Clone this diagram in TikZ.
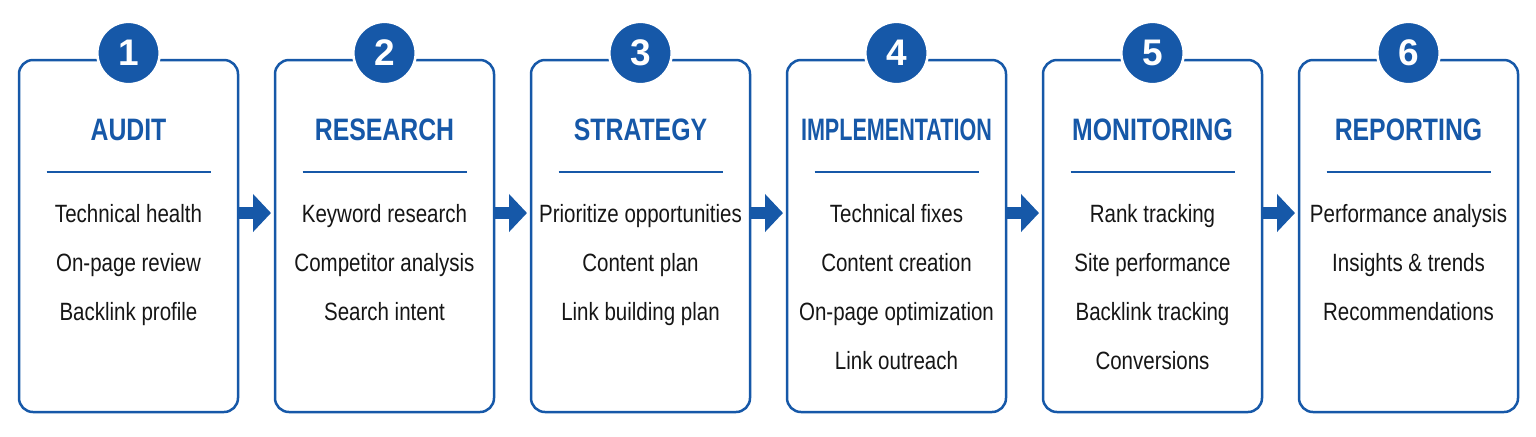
\documentclass[tikz,border=0pt]{standalone}
\usepackage{fontspec}
\usepackage{graphicx}
\setmainfont{Liberation Sans}[FakeStretch=0.82]
\newfontfamily\titlefont{Liberation Sans}[FakeStretch=0.8]
\newfontfamily\numfont{Liberation Sans}
\usetikzlibrary{arrows.meta}
\definecolor{stageblue}{RGB}{22,88,168}
\definecolor{itemink}{RGB}{22,22,22}
\tikzset{
  stagebox/.style={draw=stageblue, line width=1.25pt, rounded corners=7pt, fill=white,
    minimum width=109.5pt, minimum height=176pt, inner sep=0pt, outer sep=0pt},
  numdisc/.style={circle, fill=stageblue, draw=white, line width=1.3pt,
    minimum size=31.2pt, inner sep=0pt, text=white, font=\numfont\bfseries\fontsize{18.5}{18.5}\selectfont},
  stagetitle/.style={anchor=base, text=stageblue, inner sep=0pt, font=\titlefont\bfseries\fontsize{15.5}{15.5}\selectfont},
  stageitem/.style={anchor=base, text=itemink, inner sep=0pt, font=\fontsize{12.5}{12.5}\selectfont},
  sepline/.style={draw=stageblue, line width=1pt},
  flowarrow/.style={draw=stageblue, line width=6pt, -{Triangle[width=18.5pt,length=9pt]}, shorten >=2pt}
}
\begin{document}
\begin{tikzpicture}[x=0.5pt,y=-0.5pt]
\useasboundingbox (0,0) rectangle (1536,436);
% stage boxes:
\foreach \i/\ttl/\items in {
  1/AUDIT/{Technical health,On-page review,Backlink profile},
  2/RESEARCH/{Keyword research,Competitor analysis,Search intent},
  3/STRATEGY/{Prioritize opportunities,Content plan,Link building plan},
  4/{\scalebox{0.87}[1]{IMPLEMENTATION}}/{Technical fixes,Content creation,On-page optimization,Link outreach},
  5/MONITORING/{Rank tracking,Site performance,Backlink tracking,Conversions},
  6/REPORTING/{Performance analysis,Insights \& trends,Recommendations}}{
  \pgfmathsetmacro{\xc}{128.5+256*(\i-1)}
  \node[stagebox] (b\i) at (\xc,236) {};
  \node[numdisc] (n\i) at (\xc,53) {\i};
  \node[stagetitle] (t\i) at (\xc,140) {\ttl};
  \draw[sepline] (\xc-82,172) -- (\xc+82,172);
  \foreach \txt [count=\k] in \items
    \node[stageitem] (s\i-\k) at (\xc,222+49*\k-49) {\txt};
}
% arrows between stages:
\foreach \i [evaluate=\i as \j using int(\i+1)] in {1,...,5}
  \draw[flowarrow] ([yshift=11.5pt]b\i.east) -- ([yshift=11.5pt]b\j.west);
\end{tikzpicture}
\end{document}
